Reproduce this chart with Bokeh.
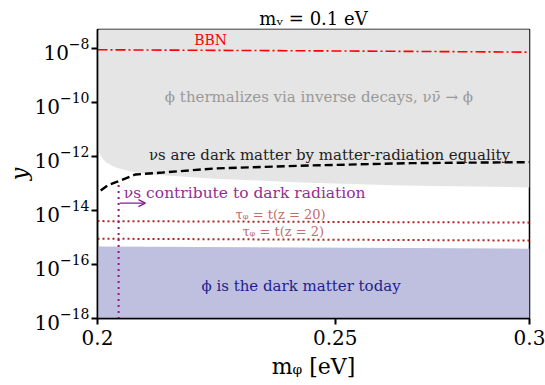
from bokeh.plotting import figure
from bokeh.models import (Range1d, FixedTicker, CustomJSTickFormatter, Label,
                          Arrow, OpenHead)
from bokeh.embed import file_html
from bokeh.resources import INLINE

# --- data -------------------------------------------------------------
# region where phi thermalizes via inverse decays (lower edge)
m_therm = [0.2002, 0.2006, 0.2016, 0.2035, 0.2063, 0.2103, 0.2224, 0.2421, 0.2659, 0.3]
y_therm_low = [1.7e-12, 1.1e-12, 6.1e-13, 4.0e-13, 2.85e-13, 2.2e-13, 1.57e-13, 1.11e-13, 8.6e-14, 7.3e-14]
y_therm_top = 1e-7

# neutrinos become dark matter by matter-radiation equality
m_eq = [0.2006, 0.2019, 0.2035, 0.2073, 0.2126, 0.2235, 0.2444, 0.2684, 0.3]
y_eq = [5.6e-14, 8.6e-14, 1.14e-13, 2.2e-13, 2.6e-13, 3.7e-13, 4.75e-13, 5.8e-13, 6.3e-13]

# BBN bound
m_bbn = [0.2, 0.25, 0.3]
y_bbn = [9.3e-9, 8.4e-9, 7.6e-9]

# lifetime contours
m_tau = [0.2, 0.3]
y_tau_z20 = [4.1e-15, 3.6e-15]
y_tau_z2 = [9.1e-16, 7.8e-16]

# phi is the dark matter today (upper edge)
m_dm = [0.2, 0.3]
y_dm_top = [4.7e-16, 3.9e-16]
y_floor = 1e-18

# dark radiation threshold in m_phi
m_dr = 0.204
y_dr = [9e-14, 1e-18]
m_arrow = [0.2042, 0.2092]
y_arrow = 1.9e-14

x_ticks = [0.2, 0.25, 0.3]
y_ticks = [1e-8, 1e-10, 1e-12, 1e-14, 1e-16, 1e-18]

SERIF = "DejaVu Serif"

p = figure(width=545, height=385, x_axis_type="log", y_axis_type="log",
           x_range=Range1d(0.2, 0.3), y_range=Range1d(1e-18, 10 ** -7.28),
           output_backend="svg", toolbar_location=None,
           title="mᵥ = 0.1 eV", x_axis_label="mᵩ [eV]", y_axis_label="y",
           min_border_left=97, min_border_right=16, min_border_top=29,
           min_border_bottom=67)
p.background_fill_color = "white"
p.border_fill_color = "white"
p.grid.visible = False
p.outline_line_color = "black"
p.outline_line_width = 1.5

p.title.align = "center"
p.title.text_font = SERIF
p.title.text_font_size = "18px"
p.title.text_font_style = "normal"
p.title.text_color = "black"
p.title.standoff = 2

# shaded regions
p.varea(x=m_therm, y1=y_therm_low, y2=[y_therm_top] * len(m_therm),
        fill_color="#e5e5e5")
p.varea(x=m_dm, y1=[y_floor] * len(m_dm), y2=y_dm_top, fill_color="#bfbfdf")

# curves
p.line(m_bbn, y_bbn, line_color="red", line_width=1.6, line_dash="10 3 2 3")
p.line(m_eq, y_eq, line_color="black", line_width=2.4, line_dash="8 4")
p.line(m_tau, y_tau_z20, line_color="#b22222", line_width=2, line_dash="2 3")
p.line(m_tau, y_tau_z2, line_color="#b22222", line_width=2, line_dash="2 3")
p.line([m_dr, m_dr], y_dr, line_color="#8e1a8e", line_width=2, line_dash="2 4")
p.add_layout(Arrow(end=OpenHead(size=7, line_color="#8e1a8e", line_width=1.3),
                   x_start=m_arrow[0], y_start=y_arrow, x_end=m_arrow[1], y_end=y_arrow,
                   line_color="#8e1a8e", line_width=1.3))

# axes
for ax in (p.xaxis[0], p.yaxis[0]):
    ax.axis_line_color = "black"
    ax.axis_line_width = 1.5
    ax.major_tick_line_width = 2
    ax.major_tick_in = 0
    ax.major_tick_out = 6
    ax.minor_tick_line_color = None
    ax.major_label_text_font = SERIF
    ax.major_label_text_color = "black"
    ax.axis_label_text_font = SERIF
    ax.axis_label_text_color = "black"
p.xaxis.major_label_text_font_size = "20px"
p.yaxis.major_label_text_font_size = "20px"
p.xaxis.axis_label_text_font_size = "22px"
p.xaxis.axis_label_text_font_style = "normal"
p.xaxis.axis_label_standoff = 6
p.yaxis.axis_label_text_font_size = "22px"
p.yaxis.axis_label_text_font_style = "italic"
p.yaxis.axis_label_standoff = 0
p.xaxis.ticker = FixedTicker(ticks=x_ticks, minor_ticks=[])
p.yaxis.ticker = FixedTicker(ticks=y_ticks, minor_ticks=[])
p.xaxis.formatter = CustomJSTickFormatter(code="return tick.toString()")
p.xaxis.major_label_standoff = 5
p.yaxis.major_label_standoff = 2

# in-plot annotations
def note(x, y, text, color, size, align="center", style="normal"):
    p.add_layout(Label(x=x, y=y, text=text, text_color=color, text_font=SERIF,
                       text_font_size=size, text_align=align,
                       text_baseline="middle", text_font_style=style))

note(0.2224, 2.07e-8, "BBN", "red", "14px")
note(0.2462, 1.58e-10, "ϕ thermalizes via inverse decays, νν̄ → ϕ", "#999999", "15px")
note(0.2099, 1.12e-12, "νs are dark matter by matter-radiation equality", "#222222",
     "15px", align="left")
note(0.2050, 4.35e-14, "νs contribute to dark radiation", "#962d96", "15.5px", align="left")
note(0.2375, 7.2e-15, "τᵩ = t(z = 20)", "#c46a6a", "13px")
note(0.2381, 1.69e-15, "τᵩ = t(z = 2)", "#c46a6a", "13px")
note(0.2421, 1.55e-17, "ϕ is the dark matter today", "#1e1e8c", "15px")

open("out.html", "w").write(file_html(p, INLINE))
